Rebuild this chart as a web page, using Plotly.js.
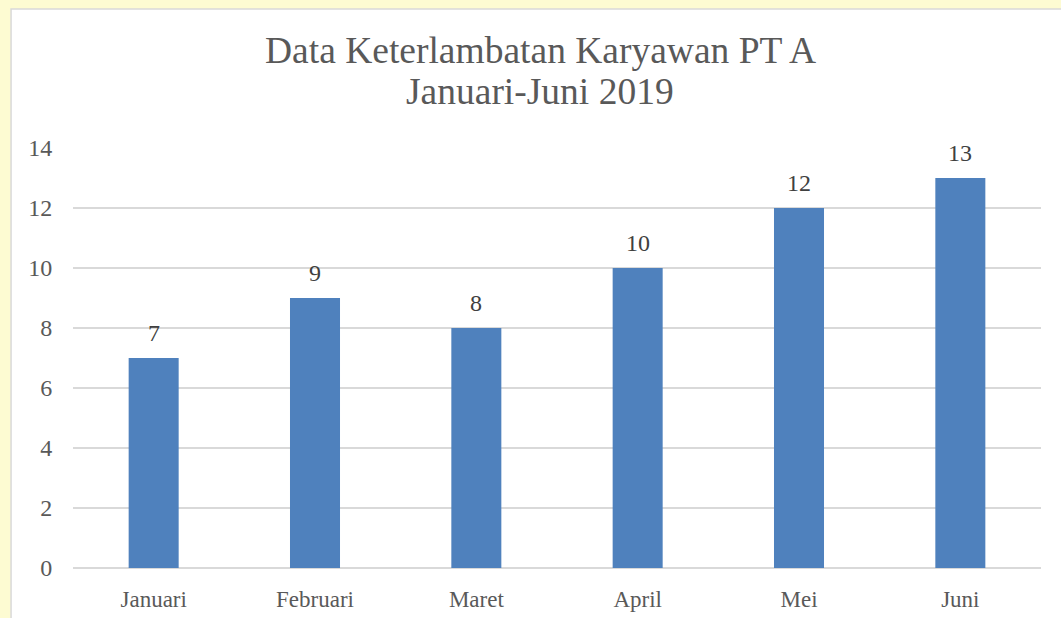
<!DOCTYPE html>
<html>
<head>
<meta charset="utf-8">
<script src="https://cdn.plot.ly/plotly-3.0.1.min.js"></script>
<style>html,body{margin:0;padding:0;background:#fdfbd2;}</style>
</head>
<body>
<div id="chart" style="width:1061px;height:618px;"></div>
<script>
const months = ["Januari", "Februari", "Maret", "April", "Mei", "Juni"];
const lateCounts = [7, 9, 8, 10, 12, 13];
const yTicks = [0, 2, 4, 6, 8, 10, 12, 14];
const titleLines = ["Data Keterlambatan Karyawan PT A", "Januari-Juni 2019"];

const serif = "Liberation Serif, Times New Roman, serif";

const trace = {
  type: "bar",
  x: months,
  y: lateCounts,
  marker: {color: "#4f81bd"},
  hoverinfo: "none"
};

const valueLabels = months.map((m, i) => ({
  x: m, y: lateCounts[i], xref: "x", yref: "y",
  text: String(lateCounts[i]), showarrow: false,
  yanchor: "bottom", yshift: 10,
  font: {family: serif, size: 24, color: "#404040"}
}));

const titleAnnots = titleLines.map((t, i) => ({
  text: t, showarrow: false,
  xref: "paper", yref: "paper", x: (540 - 73) / 968, xanchor: "center",
  y: [(568 - 51) / 420, (568 - 91) / 420][i], yanchor: "middle",
  font: {family: serif, size: 37.5, color: "#595959"}
}));

const layout = {
  width: 1061,
  height: 618,
  margin: {l: 73, r: 20, t: 148, b: 50},
  paper_bgcolor: "#fdfbd2",
  plot_bgcolor: "rgba(0,0,0,0)",
  bargap: 0.69,
  showlegend: false,
  font: {family: serif, color: "#595959"},
  xaxis: {
    type: "category",
    tickfont: {size: 23, color: "#595959"},
    ticks: "outside", ticklen: 10, tickcolor: "rgba(0,0,0,0)",
    showline: false, showgrid: false, zeroline: false
  },
  yaxis: {
    range: [0, 14],
    tickvals: yTicks,
    tickfont: {size: 24, color: "#595959"},
    ticks: "outside", ticklen: 15, tickcolor: "rgba(0,0,0,0)",
    showgrid: true, gridcolor: "#d9d9d9", gridwidth: 1.5,
    zeroline: true, zerolinecolor: "#d9d9d9", zerolinewidth: 1.5,
    showline: false, fixedrange: true
  },
  annotations: titleAnnots.concat(valueLabels),
  shapes: [{
    type: "rect", layer: "below",
    xref: "paper", yref: "paper",
    x0: -0.064, x1: 1.1, y0: -0.3, y1: 1.331,
    fillcolor: "#ffffff",
    line: {color: "#d9d9d9", width: 1.5}
  }]
};

Plotly.newPlot("chart", [trace], layout, {displayModeBar: false, staticPlot: true});
</script>
</body>
</html>
